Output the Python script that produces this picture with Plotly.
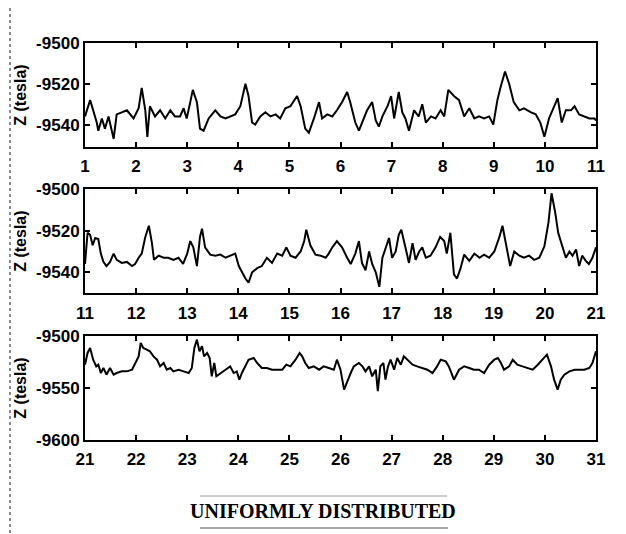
import plotly.graph_objects as go

# ---------------- data ----------------
x1 = [1.00,1.10,1.16,1.23,1.26,1.33,1.39,1.46,1.56,1.62,1.72,1.82,1.95,2.05,2.11,2.18,2.22,2.27,2.37,2.47,
      2.57,2.67,2.76,2.86,2.93,2.99,3.06,3.11,3.19,3.25,3.32,3.42,3.55,3.65,3.75,3.84,3.94,4.04,4.14,4.20,
      4.27,4.33,4.43,4.53,4.63,4.73,4.82,4.92,5.02,5.15,5.22,5.31,5.38,5.48,5.58,5.64,5.74,5.84,5.93,6.03,
      6.13,6.19,6.29,6.36,6.46,6.52,6.62,6.69,6.75,6.82,6.92,6.99,7.05,7.14,7.21,7.27,7.34,7.44,7.53,7.60,
      7.67,7.77,7.86,7.96,8.03,8.11,8.22,8.32,8.42,8.52,8.62,8.71,8.81,8.91,8.99,9.07,9.14,9.22,9.30,9.39,
      9.50,9.59,9.73,9.82,9.91,9.99,10.08,10.18,10.25,10.33,10.41,10.51,10.58,10.67,10.77,10.87,10.97,11.00]
z1 = [-9536,-9528,-9533,-9539,-9543,-9537,-9542,-9536,-9547,-9535,-9534,-9533,-9537,-9532,-9522,-9533,-9546,-9531,-9536,-9533,
      -9537,-9533,-9536,-9536,-9532,-9537,-9529,-9523,-9529,-9542,-9543,-9537,-9533,-9536,-9537,-9536,-9535,-9531,-9520,-9526,
      -9539,-9540,-9536,-9534,-9536,-9535,-9537,-9532,-9531,-9526,-9531,-9542,-9544,-9537,-9529,-9537,-9535,-9536,-9533,-9529,
      -9524,-9529,-9539,-9543,-9537,-9533,-9529,-9538,-9541,-9536,-9531,-9526,-9537,-9524,-9534,-9537,-9543,-9533,-9536,-9530,
      -9539,-9536,-9537,-9533,-9536,-9523,-9526,-9528,-9536,-9532,-9537,-9536,-9537,-9536,-9540,-9528,-9521,-9514,-9520,-9529,
      -9533,-9532,-9534,-9535,-9539,-9546,-9537,-9531,-9527,-9539,-9533,-9533,-9531,-9535,-9536,-9537,-9537,-9538]

x2 = [11.00,11.05,11.10,11.15,11.20,11.26,11.31,11.36,11.42,11.49,11.56,11.62,11.72,11.82,11.92,11.98,12.05,12.11,12.18,12.25,
      12.31,12.35,12.44,12.54,12.63,12.73,12.83,12.92,13.00,13.06,13.12,13.19,13.25,13.29,13.35,13.45,13.55,13.65,13.75,13.84,
      13.94,14.01,14.07,14.14,14.20,14.27,14.37,14.46,14.56,14.66,14.76,14.86,14.94,15.02,15.12,15.22,15.29,15.33,15.41,15.51,
      15.61,15.71,15.77,15.84,15.93,16.03,16.13,16.20,16.29,16.36,16.42,16.49,16.56,16.62,16.69,16.76,16.82,16.88,16.95,17.01,
      17.08,17.14,17.19,17.27,17.34,17.41,17.47,17.54,17.60,17.67,17.76,17.86,17.95,18.03,18.08,18.15,18.22,18.28,18.35,18.42,
      18.52,18.62,18.72,18.81,18.91,19.01,19.11,19.17,19.24,19.32,19.40,19.50,19.59,19.69,19.79,19.89,19.99,20.07,20.13,20.20,
      20.26,20.35,20.41,20.48,20.54,20.61,20.67,20.73,20.80,20.86,20.93,21.00]
z2 = [-9536,-9521,-9522,-9527,-9523.5,-9524,-9531,-9535,-9537,-9535,-9531,-9534,-9535.5,-9535,-9537,-9536,-9533,-9531,-9523,-9517.6,
      -9526,-9534,-9532,-9533,-9533,-9534,-9533,-9536,-9531,-9525,-9528,-9537,-9523,-9519,-9528,-9531.5,-9532,-9531.5,-9533,-9532,
      -9531,-9537,-9540,-9543,-9545,-9540,-9538,-9537,-9533,-9535.5,-9531,-9532,-9528,-9532,-9533,-9530,-9525,-9519.5,-9527,-9531.5,
      -9532,-9533,-9531,-9528,-9525,-9528,-9533,-9536,-9531,-9525,-9535.5,-9539,-9530,-9536,-9540,-9547,-9533,-9529,-9523.5,-9533,
      -9530,-9522,-9519.5,-9528,-9535.5,-9526,-9534,-9530,-9528,-9533,-9532,-9528,-9523,-9525,-9531,-9521,-9541,-9543,-9538,-9531.5,
      -9534.5,-9531,-9533,-9531.5,-9533,-9530,-9523,-9517.6,-9526,-9537,-9530,-9532,-9533,-9532,-9534,-9533,-9527.5,-9516,-9502,-9511,
      -9521,-9529,-9533,-9530,-9532,-9529,-9537,-9532,-9534.5,-9536,-9533,-9528]

x3 = [21.00,21.05,21.10,21.16,21.22,21.26,21.31,21.36,21.42,21.49,21.56,21.62,21.72,21.82,21.92,21.98,22.05,22.09,22.14,22.21,
      22.27,22.34,22.41,22.47,22.54,22.60,22.67,22.73,22.83,22.93,23.03,23.09,23.14,23.19,23.24,23.29,23.33,23.39,23.44,23.48,
      23.53,23.57,23.65,23.75,23.84,23.91,23.97,24.02,24.07,24.14,24.20,24.30,24.37,24.46,24.56,24.66,24.76,24.86,24.94,25.02,
      25.12,25.20,25.25,25.31,25.38,25.48,25.58,25.67,25.77,25.87,25.93,26.00,26.07,26.13,26.20,26.26,26.36,26.43,26.49,26.56,
      26.62,26.69,26.73,26.78,26.84,26.88,26.93,26.98,27.05,27.11,27.18,27.24,27.31,27.41,27.50,27.60,27.70,27.80,27.89,27.96,
      28.06,28.12,28.22,28.32,28.42,28.52,28.61,28.71,28.81,28.91,29.01,29.08,29.14,29.20,29.30,29.37,29.46,29.56,29.66,29.76,
      29.86,29.95,30.04,30.12,30.18,30.25,30.31,30.38,30.48,30.58,30.67,30.77,30.87,30.93,31.00]
z3 = [-9527.6,-9516.3,-9511.5,-9522.8,-9529.2,-9527.6,-9535.6,-9530.8,-9537.2,-9530.8,-9537.2,-9535.6,-9534,-9534,-9532.4,-9526,-9519.6,-9506.7,-9511.5,-9513.1,
      -9514.7,-9519.6,-9522.8,-9529.2,-9526,-9532.4,-9530.8,-9534,-9532.4,-9534,-9535.6,-9530.8,-9511.5,-9503.5,-9514.7,-9509.9,-9519.6,-9516.3,-9521.2,-9538.8,
      -9526,-9538.8,-9535.6,-9532.4,-9529.2,-9535.6,-9534,-9542,-9535.6,-9529.2,-9522.8,-9521.2,-9526,-9530.8,-9530.8,-9532.4,-9532.4,-9532.4,-9527.6,-9529.2,
      -9522.8,-9516.3,-9519.6,-9526,-9530.8,-9529.2,-9532.4,-9529.2,-9530.8,-9532.4,-9522.8,-9532.4,-9551.6,-9543.6,-9535.6,-9529.2,-9526,-9529.2,-9534,-9529.2,
      -9538.8,-9532.4,-9553,-9529.2,-9526,-9542,-9529.2,-9522.8,-9532.4,-9521.2,-9527.6,-9519.6,-9522.8,-9527.6,-9529.2,-9530.8,-9532.4,-9535.6,-9529.2,-9522.8,
      -9524.4,-9529.2,-9542,-9532.4,-9529.2,-9530.8,-9532.4,-9532.4,-9535.6,-9527.6,-9522.8,-9521.2,-9526,-9532.4,-9529.2,-9522.8,-9527.6,-9529.2,-9530.8,-9532.4,
      -9527.6,-9522.8,-9517.9,-9529.2,-9542,-9551.6,-9542,-9537.2,-9534,-9532.4,-9532.4,-9532.4,-9530.8,-9526,-9514.7]

x_ranges = [[1, 11], [11, 21], [21, 31]]
y_ranges = [[-9551, -9500], [-9550, -9500], [-9600, -9500]]
y_ticks = [[-9500, -9520, -9540], [-9500, -9520, -9540], [-9500, -9550, -9600]]
y_ticklabels = [["-9500", "-9520", "-9540"], ["-9500", "-9520", "-9540"], ["-9500", "-9550", "-9600"]]
y_title = "Z (tesla)"
caption = "UNIFORMLY DISTRIBUTED"

# ---------------- figure ----------------
# the page body has an 8 px margin, so figure coordinates = page coordinates - 8
OFF = 8
W, H = 626, 534
ML, MR, MT, MB = 85 - OFF, 38, 43 - OFF, 102
domains = [[0.738, 1.0], [0.370, 0.632], [0.0, 0.262]]

tick_font = dict(family="Liberation Sans, Arial, sans-serif",
                 size=17, color="black", weight="bold")

fig = go.Figure()
xs, zs = [x1, x2, x3], [z1, z2, z3]
for i in range(3):
    sfx = "" if i == 0 else str(i + 1)
    fig.add_trace(go.Scatter(x=xs[i], y=zs[i], mode="lines",
                             line=dict(color="black", width=2),
                             xaxis="x" + sfx, yaxis="y" + sfx, showlegend=False,
                             hoverinfo="skip"))
    common = dict(showline=True, linecolor="black", linewidth=2, mirror="ticks",
                  ticks="inside", ticklen=5, tickwidth=2, tickcolor="black",
                  showgrid=False, zeroline=False, tickfont=tick_font, automargin=False)
    fig.layout["xaxis" + sfx] = dict(common, range=x_ranges[i], dtick=1, tick0=1,
                                     anchor="y" + sfx, domain=[0, 1], ticklabelstandoff=3)
    fig.layout["yaxis" + sfx] = dict(common, range=y_ranges[i], tickvals=y_ticks[i],
                                     ticktext=y_ticklabels[i], ticklabelstandoff=0,
                                     anchor="x" + sfx, domain=domains[i],
                                     title=dict(text=y_title, standoff=6,
                                                font=dict(family="Liberation Sans, Arial, sans-serif",
                                                          size=16, color="black", weight="bold")))

pw, ph = W - ML - MR, H - MT - MB
def px(x):
    return (x - OFF - ML) / pw
def py(y):
    return (H - MB - (y - OFF)) / ph

shapes = [
    dict(type="line", xref="paper", yref="paper", x0=px(200), x1=px(447), y0=py(496), y1=py(496),
         line=dict(color="#9a9a9a", width=1)),
    dict(type="line", xref="paper", yref="paper", x0=px(200), x1=px(448), y0=py(528), y1=py(528),
         line=dict(color="#555555", width=1.2)),
    dict(type="line", xref="paper", yref="paper", x0=px(10), x1=px(10), y0=py(8), y1=py(540),
         line=dict(color="#666666", width=1.5, dash="dot")),
]

fig.update_layout(
    width=W, height=H,
    margin=dict(l=ML, r=MR, t=MT, b=MB, autoexpand=False),
    paper_bgcolor="white", plot_bgcolor="white",
    shapes=shapes,
    annotations=[dict(text=caption, xref="paper", yref="paper", x=px(323), y=py(511),
                      xanchor="center", yanchor="middle", showarrow=False,
                      font=dict(family="Liberation Serif, Times New Roman, serif", size=20,
                                color="black", weight="bold"))],
)

fig.write_html("out.html")
